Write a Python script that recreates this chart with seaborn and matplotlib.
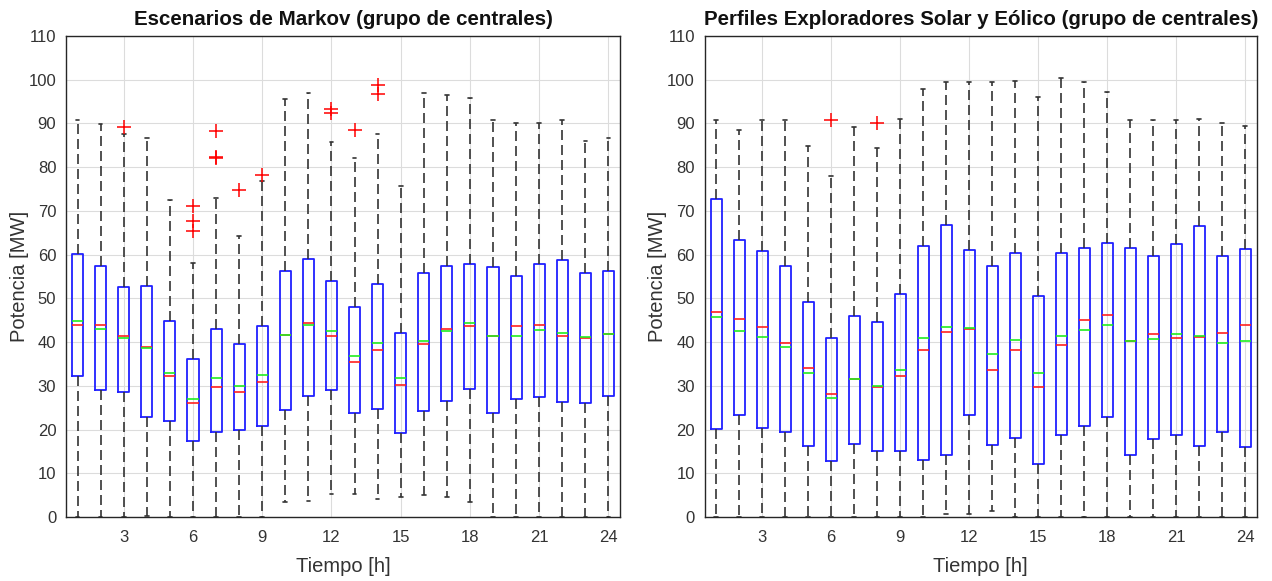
import numpy as np
import matplotlib
matplotlib.use("Agg")
import matplotlib.pyplot as plt
import seaborn as sns

hours = list(range(1, 25))

# Left panel: Escenarios de Markov
mk_q1 = [32.3, 29.1, 28.6, 23.0, 22.0, 17.5, 19.5, 19.9, 20.8, 24.6, 27.8, 29.0,
         23.8, 24.8, 19.3, 24.2, 26.6, 29.3, 23.7, 27.1, 27.4, 26.3, 26.1, 27.6]
mk_med = [43.9, 43.9, 41.4, 38.9, 32.2, 26.1, 29.8, 28.5, 30.9, 41.7, 44.3, 41.5,
          35.4, 38.3, 30.1, 39.5, 43.0, 43.6, 41.4, 43.6, 43.9, 41.5, 40.9, 41.9]
mk_q3 = [60.1, 57.5, 52.6, 52.8, 44.9, 36.2, 43.0, 39.5, 43.6, 56.2, 59.1, 53.9,
         48.1, 53.2, 42.0, 55.8, 57.3, 57.8, 57.1, 55.2, 57.8, 58.7, 55.8, 56.2]
mk_mean = [44.9, 43.1, 41.0, 38.7, 33.0, 27.1, 31.9, 29.9, 32.4, 41.7, 44.0, 42.6,
           36.8, 39.8, 31.8, 40.3, 42.6, 44.3, 41.4, 41.4, 42.7, 42.2, 41.2, 41.9]
mk_whislo = [0, 0, 0, 0.2, 0, 0, 0, 0, 0, 3.4, 3.6, 5.3,
             5.3, 4.1, 4.7, 5.1, 4.6, 3.4, 0, 0, 0, 0, 0, 0]
mk_whishi = [90.9, 89.9, 87.7, 86.6, 72.4, 58.1, 73.0, 64.2, 76.9, 95.7, 96.9, 85.7,
             82.0, 87.5, 75.7, 96.9, 96.4, 95.8, 90.9, 90.2, 90.2, 90.8, 86.0, 86.6]
mk_fliers = [[], [], [89.1], [], [], [71.2, 67.7, 65.5], [88.2, 82.0, 82.4], [74.8],
             [78.3], [], [], [93.3, 92.5], [88.6], [98.9, 96.7], [], [], [], [],
             [], [], [], [], [], []]

# Right panel: Perfiles Exploradores Solar y Eolico
pe_q1 = [20.2, 23.3, 20.4, 19.4, 16.2, 12.9, 16.6, 15.1, 15.1, 13.0, 14.3, 23.3,
         16.5, 18.1, 12.1, 18.8, 20.8, 23.0, 14.3, 17.8, 18.7, 16.2, 19.4, 16.0]
pe_med = [46.9, 45.4, 43.4, 39.7, 34.0, 28.1, 31.5, 29.8, 32.2, 38.3, 42.3, 43.0,
          33.6, 38.3, 29.7, 39.3, 45.0, 46.1, 40.2, 41.8, 41.0, 41.1, 42.0, 43.9]
pe_q3 = [72.8, 63.3, 60.8, 57.5, 49.1, 41.0, 46.0, 44.7, 51.1, 62.0, 66.7, 61.1,
         57.5, 60.3, 50.6, 60.4, 61.6, 62.6, 61.6, 59.7, 62.5, 66.5, 59.7, 61.3]
pe_mean = [45.7, 42.5, 41.2, 38.9, 33.0, 27.3, 31.5, 30.0, 33.6, 40.9, 43.4, 43.2,
           37.2, 40.6, 32.9, 41.5, 42.8, 43.9, 40.2, 40.7, 41.8, 41.3, 39.9, 40.2]
pe_whislo = [0, 0, 0, 0, 0, 0, 0, 0, 0, 0, 0.6, 0.8,
             1.5, 0, 0, 0, 0, 0, 0, 0, 0, 0, 0, 0]
pe_whishi = [90.9, 88.6, 90.9, 90.9, 84.9, 78.0, 89.3, 84.3, 91.1, 98.0, 99.6, 99.6,
             99.6, 99.8, 96.1, 100.3, 99.6, 97.3, 90.9, 90.9, 90.9, 91.0, 90.0, 89.4]
pe_fliers = [[], [], [], [], [], [90.8], [], [90.0], [], [], [], [],
             [], [], [], [], [], [], [], [], [], [], [], []]

titles = ["Escenarios de Markov (grupo de centrales)",
          "Perfiles Exploradores Solar y Eólico (grupo de centrales)"]
xlabel = "Tiempo [h]"
ylabel = "Potencia [MW]"
xticks = [3, 6, 9, 12, 15, 18, 21, 24]
yticks = list(range(0, 111, 10))

sns.set_style("white")
plt.rcParams['font.family'] = ['Liberation Sans', 'DejaVu Sans']

fig = plt.figure(figsize=(12.72, 5.81), dpi=100)
ax1 = fig.add_axes([0.0519, 0.110, 0.4355, 0.828])
ax2 = fig.add_axes([0.554, 0.110, 0.434, 0.828])

panels = [
    (ax1, mk_q1, mk_med, mk_q3, mk_mean, mk_whislo, mk_whishi, mk_fliers),
    (ax2, pe_q1, pe_med, pe_q3, pe_mean, pe_whislo, pe_whishi, pe_fliers),
]

for i, (ax, q1, med, q3, mean, wlo, whi, fl) in enumerate(panels):
    stats = []
    for k in range(len(hours)):
        stats.append(dict(q1=q1[k], med=med[k], q3=q3[k], mean=mean[k],
                          whislo=wlo[k], whishi=whi[k], fliers=fl[k]))
    ax.bxp(stats, positions=hours, widths=0.48, showmeans=True, meanline=True,
           showfliers=True, manage_ticks=False,
           boxprops=dict(color='#2020ff', linewidth=1.3),
           whiskerprops=dict(color='#333333', linestyle=(0, (6, 3)), linewidth=1.2),
           capprops=dict(color='#333333', linewidth=1.2),
           capwidths=0.16,
           medianprops=dict(color='#ff2020', linewidth=1.2, linestyle='-'),
           meanprops=dict(color='#20ee20', linewidth=1.2, linestyle='-'),
           flierprops=dict(marker='+', markeredgecolor='#ff0000', markersize=10,
                           markeredgewidth=1.1, linestyle='none'))
    ax.set_xlim(0.5, 24.5)
    ax.set_ylim(0, 110)
    ax.set_xticks(xticks)
    ax.set_yticks(yticks)
    ax.grid(True, color='#dcdcdc', linewidth=0.8)
    ax.set_axisbelow(True)
    ax.tick_params(axis='both', direction='in', length=4, labelsize=12,
                   colors='#262626', labelcolor='#333333')
    ax.tick_params(axis='x', pad=9)
    ax.tick_params(axis='y', pad=7)
    for s in ax.spines.values():
        s.set_color('#262626')
        s.set_linewidth(1.0)
    ax.set_title(titles[i], fontsize=14.8, fontweight='bold', color='#111111', pad=8)
    ax.set_xlabel(xlabel, fontsize=14.5, color='#333333', labelpad=9)
    ax.set_ylabel(ylabel, fontsize=14.5, color='#333333', labelpad=0)

fig.savefig("out.png", dpi=100)
